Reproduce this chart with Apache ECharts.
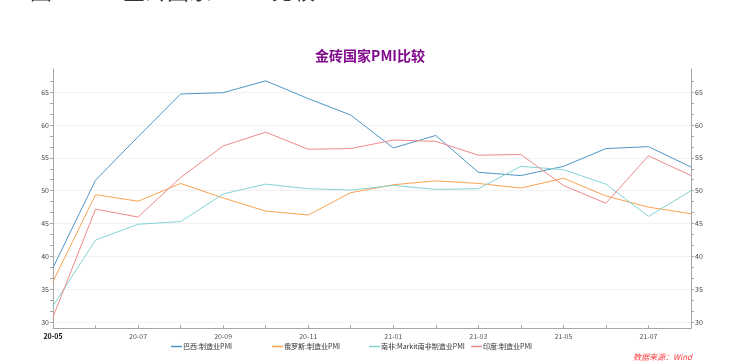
<!DOCTYPE html>
<html>
<head>
<meta charset="utf-8">
<script src="https://cdn.jsdelivr.net/npm/echarts@6/dist/echarts.min.js"></script>
<style>
  html, body { margin: 0; padding: 0; background: #fff; }
  #chart { width: 740px; height: 364px; }
</style>
</head>
<body>
<div id="chart"></div>
<script>
const months = ["20-05", "20-06", "20-07", "20-08", "20-09", "20-10", "20-11", "20-12",
  "21-01", "21-02", "21-03", "21-04", "21-05", "21-06", "21-07", "21-08"];

const brazil = [38.3, 51.6, 58.2, 64.7, 64.9, 66.7, 64.0, 61.5, 56.5, 58.4, 52.8, 52.3, 53.7, 56.4, 56.7, 53.6];
const russia = [36.2, 49.4, 48.4, 51.1, 48.9, 46.9, 46.3, 49.7, 50.9, 51.5, 51.1, 50.4, 51.9, 49.2, 47.5, 46.5];
const southAfrica = [32.5, 42.5, 44.9, 45.3, 49.5, 51.0, 50.3, 50.1, 50.8, 50.2, 50.3, 53.7, 53.2, 51.0, 46.1, 50.0];
const india = [30.8, 47.2, 46.0, 52.0, 56.8, 58.9, 56.3, 56.4, 57.7, 57.5, 55.4, 55.5, 50.8, 48.1, 55.3, 52.3];

const yLabels = [30, 35, 40, 45, 50, 55, 60, 65];

const seriesNames = ["巴西:制造业PMI", "俄罗斯:制造业PMI", "南非:Markit南非制造业PMI", "印度:制造业PMI"];
const colors = ["#4f97c4", "#f9a24e", "#84d4d4", "#ef8a8a"];

// minor ticks: three steps between labelled values
const yTicks = [];
for (let v = 30; v <= 68; v += 5 / 3) yTicks.push(+v.toFixed(3));

const FONT = "'Noto Sans CJK SC', 'Noto Sans', sans-serif";
const yMin = 29.13, yMax = 68.5;

const chart = echarts.init(document.getElementById("chart"));

function valueAxis(position) {
  return {
    type: "value",
    position: position,
    min: yMin,
    max: yMax,
    axisLine: { show: true, lineStyle: { color: "#a6a6a6", width: 1 } },
    axisTick: { show: true, length: 3, customValues: yTicks, lineStyle: { color: "#a6a6a6" } },
    axisLabel: {
      customValues: yLabels,
      fontSize: 7,
      color: "#444",
      margin: 4,
      fontFamily: FONT,
    },
    splitLine: { show: false },
  };
}

const gridAxis = {
  type: "value",
  min: yMin,
  max: yMax,
  position: "left",
  axisLine: { show: false },
  axisTick: { show: false, customValues: yLabels },
  axisLabel: { show: false, customValues: yLabels },
  splitLine: { show: true, lineStyle: { color: "#f2f2f2", width: 1 } },
};

const data = [brazil, russia, southAfrica, india];
const legendLeft = [171, 272, 369, 471];

const option = {
  backgroundColor: "#fff",
  animation: false,
  title: {
    text: "金砖国家PMI比较",
    left: "center",
    top: 44,
    textStyle: { color: "#800a8c", fontSize: 14, fontWeight: "bold", fontFamily: FONT },
  },
  graphic: [
    {
      type: "text",
      left: 30,
      top: -18,
      style: {
        text: "图 21：  金砖国家 PMI 比较",
        fontSize: 22,
        fontFamily: "'DejaVu Serif', 'Liberation Serif', 'Noto Sans CJK SC', serif",
        fill: "#333",
      },
    },
    {
      type: "text",
      right: 48,
      top: 353,
      style: {
        text: "数据来源：Wind",
        fontSize: 8,
        fontStyle: "italic",
        fontFamily: FONT,
        fill: "#ff3b3b",
      },
    },
  ],
  legend: seriesNames.map((n, i) => ({
    data: [n],
    left: legendLeft[i],
    top: 343,
    padding: 0,
    icon: "rect",
    itemWidth: 11,
    itemHeight: 1.5,
    itemGap: 0,
    textStyle: { fontSize: 7, color: "#333", fontFamily: FONT, padding: [0, 0, 0, -4] },
  })),
  grid: { left: 53, right: 49, top: 69, bottom: 36 },
  xAxis: {
    type: "category",
    data: months,
    boundaryGap: false,
    axisLine: { lineStyle: { color: "#a6a6a6", width: 1 } },
    axisTick: { show: true, inside: true, length: 3, interval: 0, lineStyle: { color: "#a6a6a6" } },
    axisLabel: {
      interval: 1,
      fontSize: 7,
      color: "#555",
      margin: 5,
      fontFamily: FONT,
      formatter: (v, idx) => (idx === 0 ? "{b|" + v + "}" : v),
      rich: { b: { fontWeight: "bold", color: "#111", fontSize: 7, fontFamily: FONT } },
    },
    splitLine: { show: false },
  },
  yAxis: [valueAxis("left"), valueAxis("right"), gridAxis],
  series: seriesNames.map((n, i) => ({
    name: n,
    type: "line",
    data: data[i],
    yAxisIndex: 0,
    symbol: "none",
    smooth: false,
    lineStyle: { width: 1, color: colors[i] },
    itemStyle: { color: colors[i] },
  })),
};

chart.setOption(option);
</script>
</body>
</html>
